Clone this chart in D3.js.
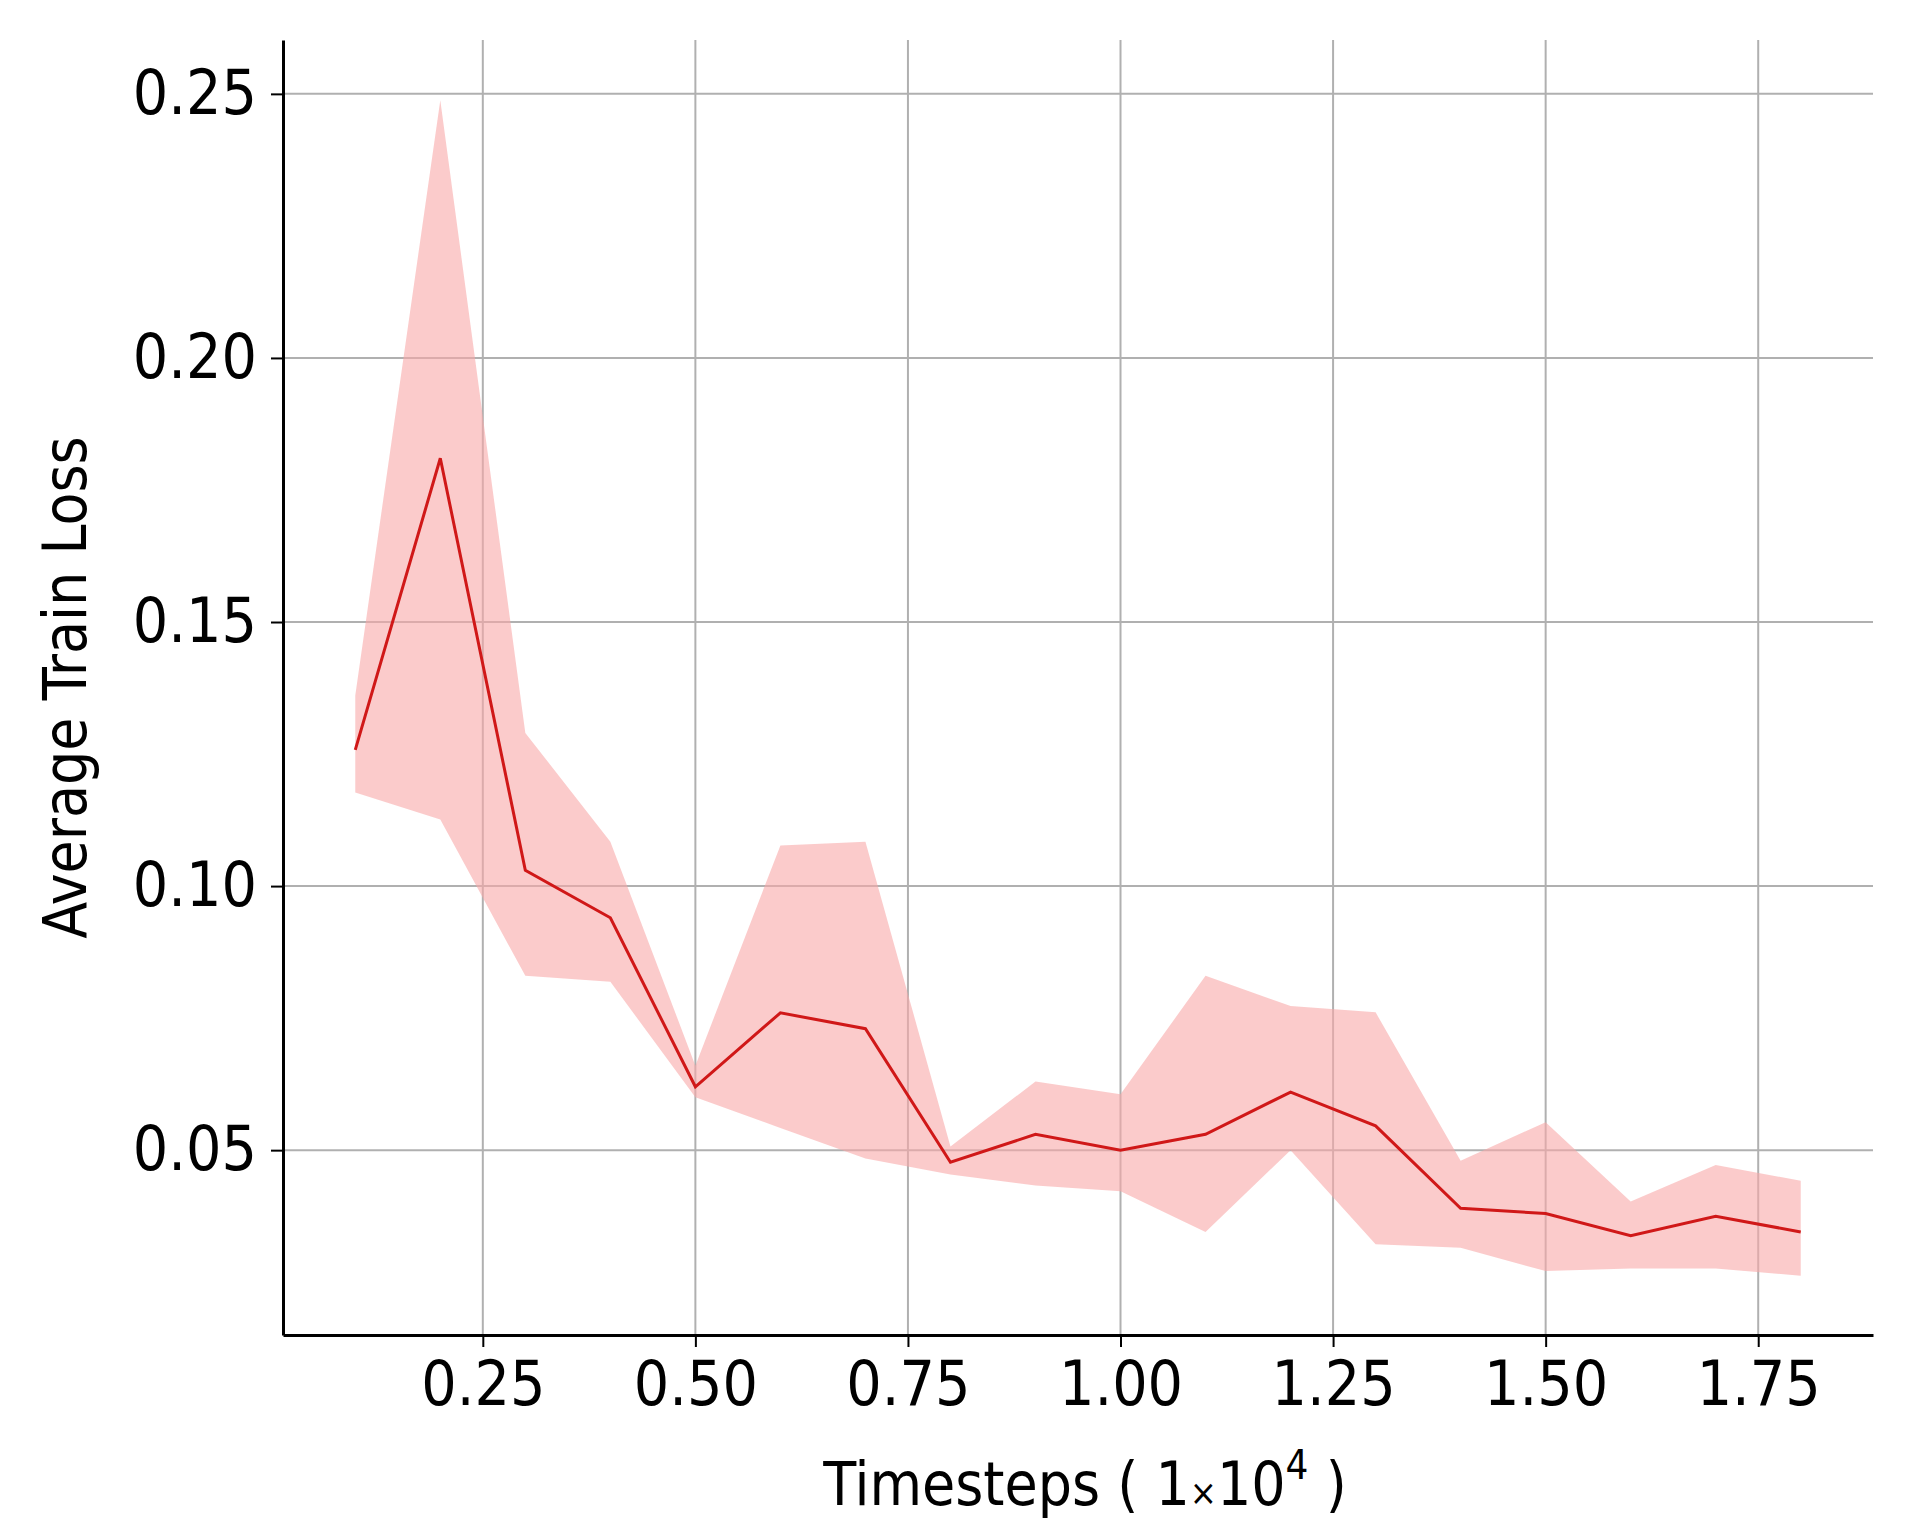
<!DOCTYPE html>
<html>
<head>
<meta charset="utf-8">
<script src="https://cdn.jsdelivr.net/npm/d3@7"></script>
<style>
  body { margin: 0; background: #fff; }
  text { font-family: "DejaVu Sans Condensed", "DejaVu Sans", sans-serif; fill: #000; }
</style>
</head>
<body>
<svg id="chart" width="1912" height="1539"></svg>
<script>
  // timesteps (x 1e4)
  var steps = [0.1, 0.2, 0.3, 0.4, 0.5, 0.6, 0.7, 0.8, 0.9, 1.0, 1.1, 1.2, 1.3, 1.4, 1.5, 1.6, 1.7, 1.8];
  var meanLoss = [0.1258, 0.181, 0.103, 0.094, 0.062, 0.076, 0.073, 0.0477, 0.053, 0.050, 0.053, 0.061, 0.0546, 0.039, 0.038, 0.0338, 0.0375, 0.0345];
  var upperLoss = [0.1361, 0.2488, 0.129, 0.1084, 0.066, 0.1077, 0.1084, 0.0507, 0.063, 0.0606, 0.083, 0.0773, 0.0761, 0.048, 0.0553, 0.0403, 0.0472, 0.0442];
  var lowerLoss = [0.1177, 0.1126, 0.083, 0.0819, 0.060, 0.0542, 0.0484, 0.0454, 0.0433, 0.0422, 0.0345, 0.050, 0.0322, 0.0315, 0.0271, 0.0276, 0.0276, 0.0262];
  var xTicks = [0.25, 0.50, 0.75, 1.00, 1.25, 1.50, 1.75];
  var yTicks = [0.05, 0.10, 0.15, 0.20, 0.25];

(function(){
  var mLeft = 283, mRight = 1873, mTop = 40, mBottom = 1335;
  var svg = d3.select("#chart");

  var x = d3.scaleLinear().domain([0.015, 1.885]).range([mLeft, mRight]);
  var y = d3.scaleLinear().domain([0.015, 0.2602]).range([mBottom, mTop]);

  // grid
  svg.append("g").selectAll("line").data(xTicks).enter().append("line")
    .attr("x1", function(d){ return x(d); }).attr("x2", function(d){ return x(d); })
    .attr("y1", mTop).attr("y2", mBottom)
    .attr("stroke", "#b0b0b0").attr("stroke-width", 2);
  svg.append("g").selectAll("line").data(yTicks).enter().append("line")
    .attr("x1", mLeft).attr("x2", mRight)
    .attr("y1", function(d){ return y(d); }).attr("y2", function(d){ return y(d); })
    .attr("stroke", "#b0b0b0").attr("stroke-width", 2);

  var rows = steps.map(function(s, i){ return {s: s, m: meanLoss[i], lo: lowerLoss[i], hi: upperLoss[i]}; });

  svg.append("path").datum(rows)
    .attr("fill", "#f9a8a8").attr("fill-opacity", 0.6)
    .attr("d", d3.area().x(function(d){ return x(d.s); })
      .y0(function(d){ return y(d.lo); }).y1(function(d){ return y(d.hi); }));

  svg.append("path").datum(rows)
    .attr("fill", "none").attr("stroke", "#d01818").attr("stroke-width", 3)
    .attr("d", d3.line().x(function(d){ return x(d.s); }).y(function(d){ return y(d.m); }));

  // axes
  var xAxis = svg.append("g").attr("transform", "translate(0," + mBottom + ")")
    .call(d3.axisBottom(x).tickValues(xTicks).tickFormat(d3.format(".2f")).tickSizeInner(12).tickSizeOuter(0).tickPadding(14));
  var yAxis = svg.append("g").attr("transform", "translate(" + mLeft + ",0)")
    .call(d3.axisLeft(y).tickValues(yTicks).tickFormat(d3.format(".2f")).tickSizeInner(12).tickSizeOuter(0).tickPadding(14));
  [xAxis, yAxis].forEach(function(a){
    a.select(".domain").attr("stroke", "#000").attr("stroke-width", 3);
    a.selectAll(".tick line").attr("stroke", "#000").attr("stroke-width", 2);
    a.selectAll(".tick text").attr("font-size", 62).attr("fill", "#000");
  });

  svg.append("text").attr("x", 1085).attr("y", 1505).attr("text-anchor", "middle")
    .attr("font-size", 60)
    .html('Timesteps ( 1<tspan font-size="36">×</tspan>10<tspan dy="-26" font-size="40">4</tspan><tspan dy="26"> )</tspan>');

  svg.append("text")
    .attr("transform", "translate(86," + ((mTop + mBottom) / 2) + ") rotate(-90)")
    .attr("text-anchor", "middle").attr("font-size", 60)
    .text("Average Train Loss");
})();
</script>
</body>
</html>
